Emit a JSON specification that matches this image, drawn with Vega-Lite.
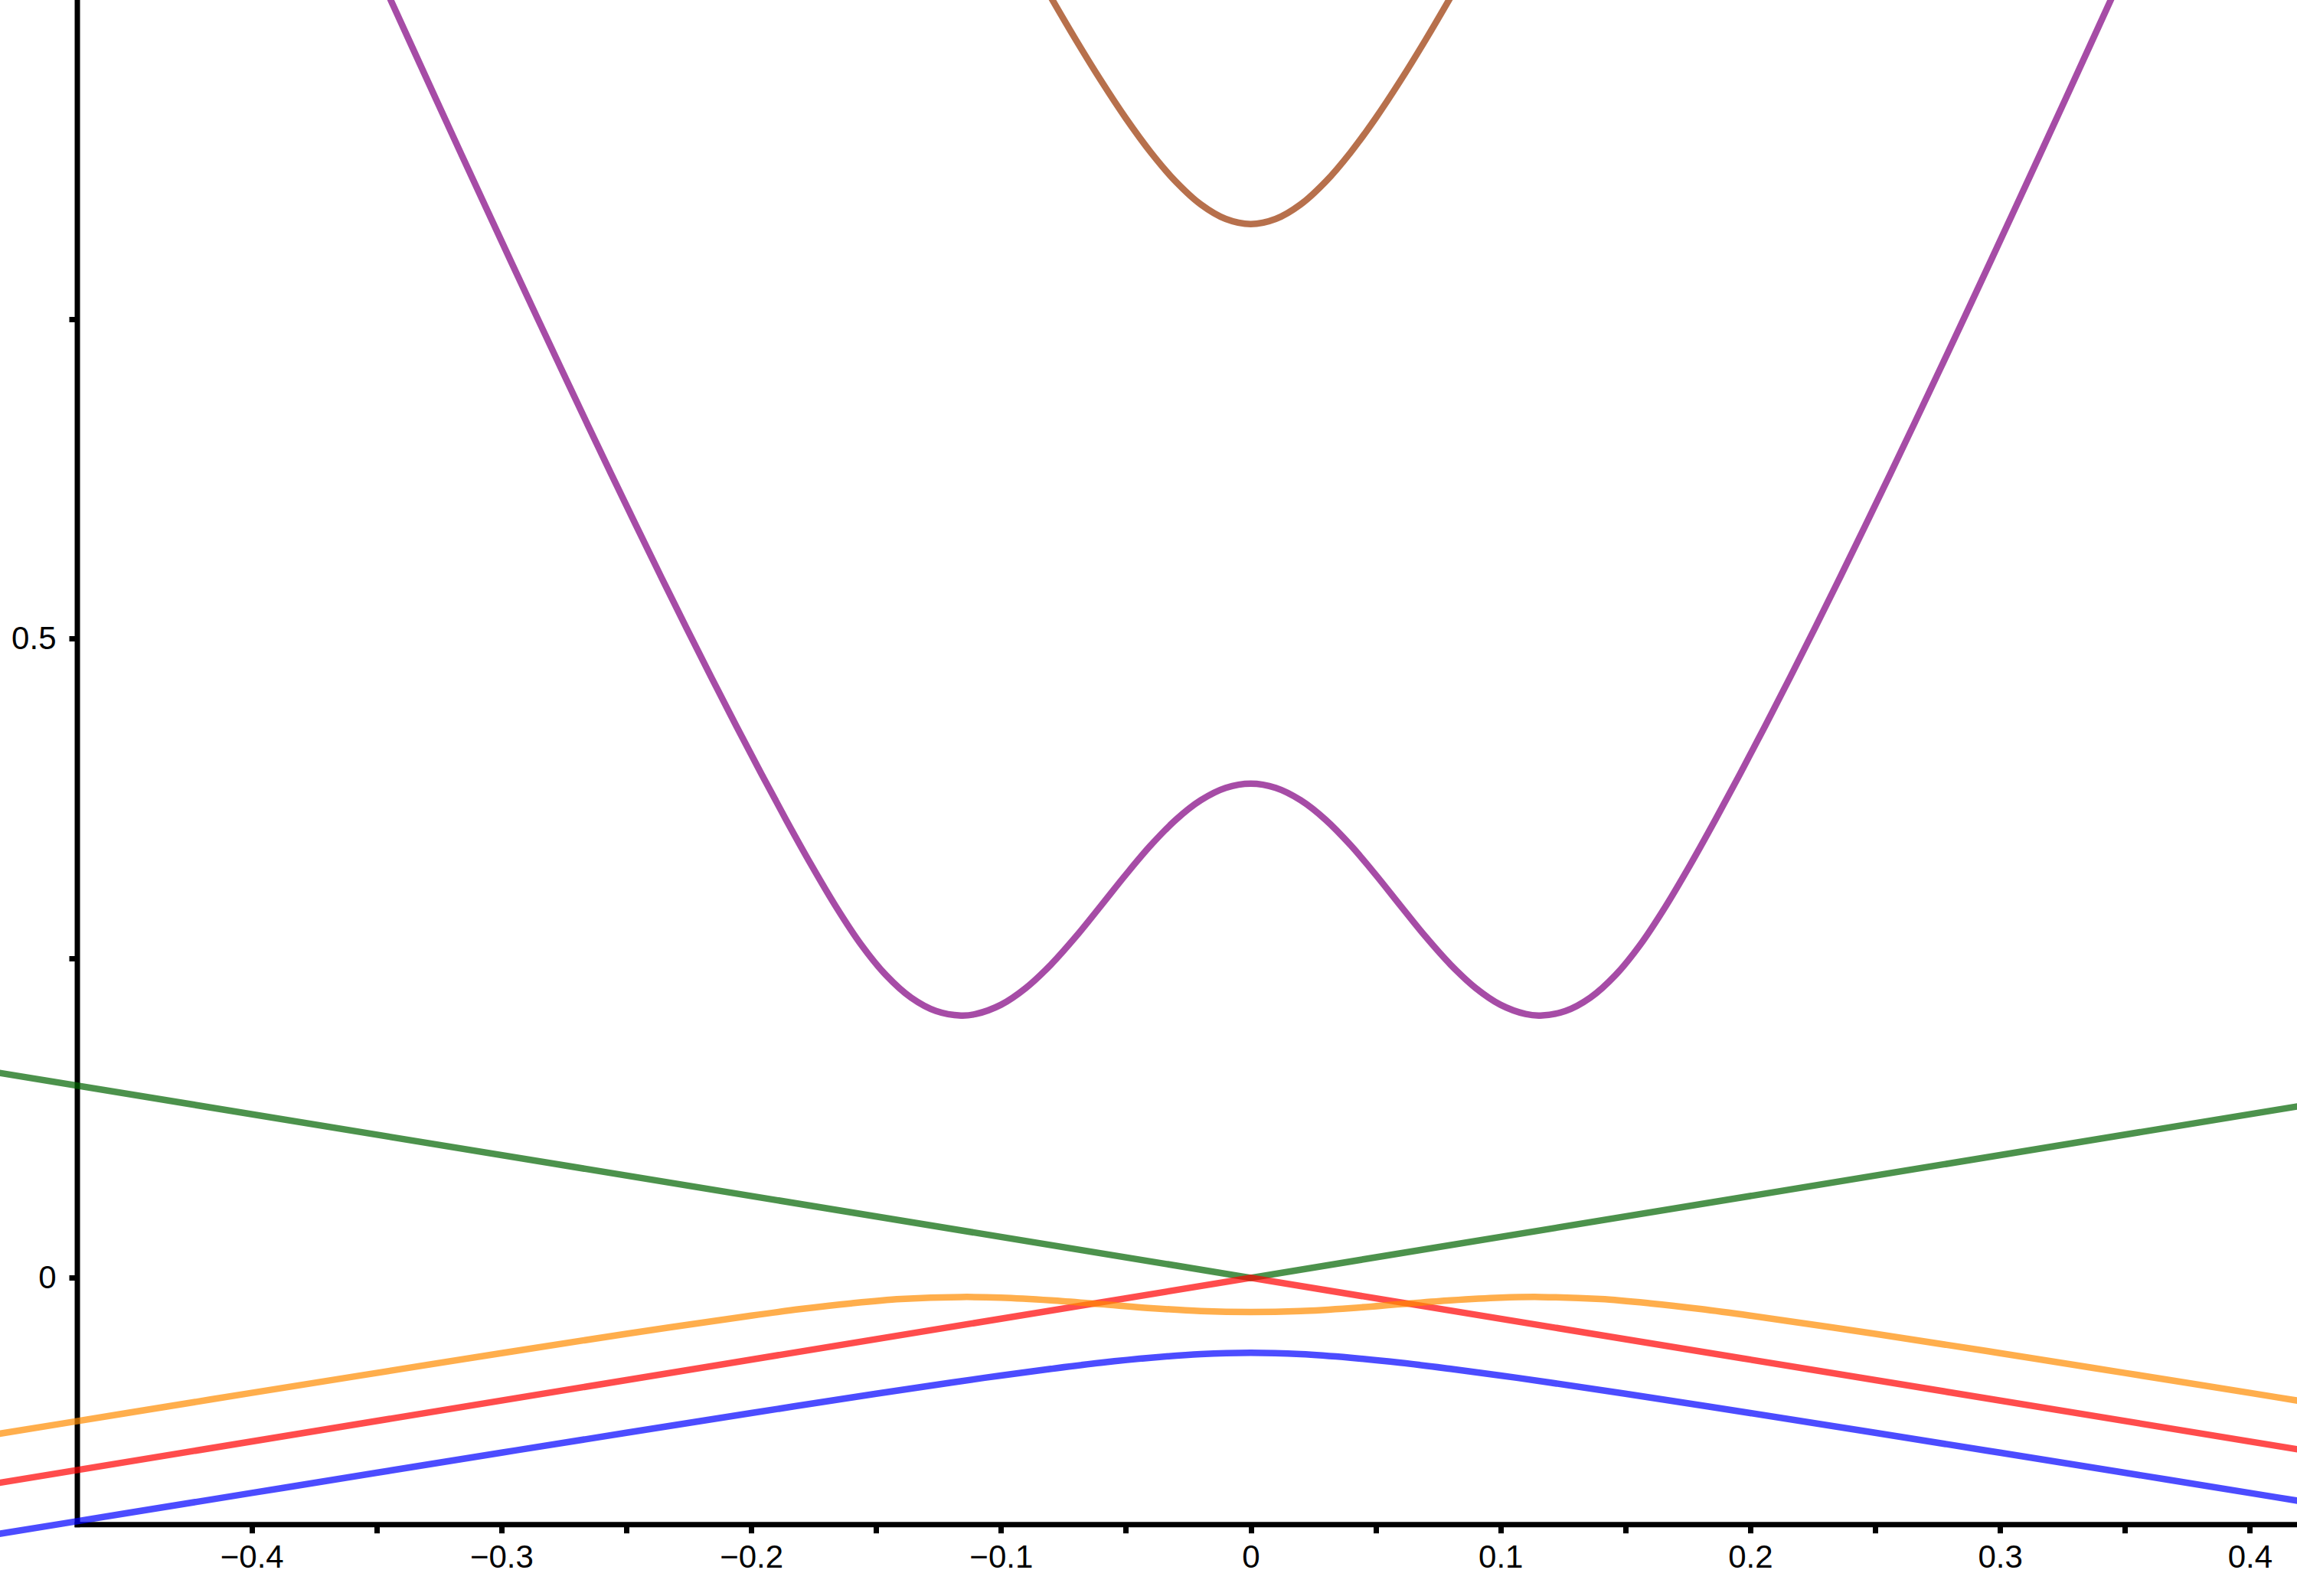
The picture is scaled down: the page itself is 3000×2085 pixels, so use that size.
{
  "$schema": "https://vega.github.io/schema/vega-lite/v6.json",
  "width": 3000,
  "height": 2085,
  "autosize": {"type": "none"},
  "padding": 0,
  "background": "white",
  "config": {
    "view": {"stroke": null},
    "axis": {"labelFont": "Liberation Sans", "labelFontSize": 42, "labelColor": "black", "tickColor": "black", "domain": false, "grid": false, "title": null, "labelFlush": false, "labelOverlap": false}
  },
  "datasets": {
    "axes": [{"k": -0.4698, "E": -0.19305, "E2": 1.05, "k2": 0.45}],
    "blue": [
      {"k": -0.51, "E": -0.2031}, {"k": -0.45, "E": -0.1841}, {"k": -0.4, "E": -0.1683}, {"k": -0.35, "E": -0.1525},
      {"k": -0.3, "E": -0.1368}, {"k": -0.25, "E": -0.1212}, {"k": -0.2, "E": -0.1058}, {"k": -0.15, "E": -0.0907},
      {"k": -0.12, "E": -0.082}, {"k": -0.1, "E": -0.0764}, {"k": -0.08, "E": -0.0712}, {"k": -0.06, "E": -0.0664},
      {"k": -0.04, "E": -0.0625}, {"k": -0.02, "E": -0.0597}, {"k": 0, "E": -0.0587}, {"k": 0.02, "E": -0.0597},
      {"k": 0.04, "E": -0.0625}, {"k": 0.06, "E": -0.0664}, {"k": 0.08, "E": -0.0712}, {"k": 0.1, "E": -0.0764},
      {"k": 0.12, "E": -0.082}, {"k": 0.15, "E": -0.0907}, {"k": 0.2, "E": -0.1058}, {"k": 0.25, "E": -0.1212},
      {"k": 0.3, "E": -0.1368}, {"k": 0.35, "E": -0.1525}, {"k": 0.4, "E": -0.1683}, {"k": 0.43, "E": -0.1778}
    ],
    "green": [{"k": -0.51, "E": 0.1632}, {"k": 0, "E": 0}, {"k": 0.43, "E": 0.1376}],
    "red": [{"k": -0.51, "E": -0.1632}, {"k": 0, "E": 0}, {"k": 0.43, "E": -0.1376}],
    "orange": [
      {"k": -0.51, "E": -0.1248}, {"k": -0.45, "E": -0.1058}, {"k": -0.4, "E": -0.09}, {"k": -0.35, "E": -0.0744},
      {"k": -0.3, "E": -0.0589}, {"k": -0.25, "E": -0.0438}, {"k": -0.2, "E": -0.0296}, {"k": -0.18, "E": -0.0244},
      {"k": -0.16, "E": -0.02}, {"k": -0.14, "E": -0.0166}, {"k": -0.116, "E": -0.015}, {"k": -0.1, "E": -0.0155},
      {"k": -0.08, "E": -0.0176}, {"k": -0.06, "E": -0.0206}, {"k": -0.04, "E": -0.0237}, {"k": -0.02, "E": -0.026},
      {"k": 0, "E": -0.0268}, {"k": 0.02, "E": -0.026}, {"k": 0.04, "E": -0.0237}, {"k": 0.06, "E": -0.0206},
      {"k": 0.08, "E": -0.0176}, {"k": 0.1, "E": -0.0155}, {"k": 0.116, "E": -0.015}, {"k": 0.14, "E": -0.0166},
      {"k": 0.16, "E": -0.02}, {"k": 0.18, "E": -0.0244}, {"k": 0.2, "E": -0.0296}, {"k": 0.25, "E": -0.0438},
      {"k": 0.3, "E": -0.0589}, {"k": 0.35, "E": -0.0744}, {"k": 0.4, "E": -0.09}, {"k": 0.43, "E": -0.0995}
    ],
    "purple": [
      {"k": -0.366, "E": 1.0926}, {"k": -0.356, "E": 1.0496}, {"k": -0.346, "E": 1.0067}, {"k": -0.336, "E": 0.9639},
      {"k": -0.326, "E": 0.9212}, {"k": -0.316, "E": 0.8787}, {"k": -0.306, "E": 0.8364}, {"k": -0.296, "E": 0.7943},
      {"k": -0.286, "E": 0.7524}, {"k": -0.276, "E": 0.7108}, {"k": -0.266, "E": 0.6695}, {"k": -0.256, "E": 0.6286},
      {"k": -0.246, "E": 0.5881}, {"k": -0.236, "E": 0.5481}, {"k": -0.226, "E": 0.5087}, {"k": -0.216, "E": 0.4699},
      {"k": -0.206, "E": 0.4318}, {"k": -0.196, "E": 0.3945}, {"k": -0.186, "E": 0.3582}, {"k": -0.176, "E": 0.3232},
      {"k": -0.166, "E": 0.2902}, {"k": -0.156, "E": 0.2607}, {"k": -0.146, "E": 0.2367}, {"k": -0.136, "E": 0.2192},
      {"k": -0.126, "E": 0.2087}, {"k": -0.116, "E": 0.2052}, {"k": -0.11, "E": 0.2064}, {"k": -0.1, "E": 0.2136},
      {"k": -0.09, "E": 0.2268}, {"k": -0.08, "E": 0.245}, {"k": -0.07, "E": 0.2669}, {"k": -0.06, "E": 0.291},
      {"k": -0.05, "E": 0.3154}, {"k": -0.04, "E": 0.3384}, {"k": -0.03, "E": 0.3583}, {"k": -0.02, "E": 0.3736},
      {"k": -0.01, "E": 0.3833}, {"k": 0, "E": 0.3866}, {"k": 0.01, "E": 0.3833}, {"k": 0.02, "E": 0.3736},
      {"k": 0.03, "E": 0.3583}, {"k": 0.04, "E": 0.3384}, {"k": 0.05, "E": 0.3154}, {"k": 0.06, "E": 0.291},
      {"k": 0.07, "E": 0.2669}, {"k": 0.08, "E": 0.245}, {"k": 0.09, "E": 0.2268}, {"k": 0.1, "E": 0.2136},
      {"k": 0.11, "E": 0.2064}, {"k": 0.116, "E": 0.2052}, {"k": 0.126, "E": 0.2087}, {"k": 0.136, "E": 0.2192},
      {"k": 0.146, "E": 0.2367}, {"k": 0.156, "E": 0.2607}, {"k": 0.166, "E": 0.2902}, {"k": 0.176, "E": 0.3232},
      {"k": 0.186, "E": 0.3582}, {"k": 0.196, "E": 0.3945}, {"k": 0.206, "E": 0.4318}, {"k": 0.216, "E": 0.4699},
      {"k": 0.226, "E": 0.5087}, {"k": 0.236, "E": 0.5481}, {"k": 0.246, "E": 0.5881}, {"k": 0.256, "E": 0.6286},
      {"k": 0.266, "E": 0.6695}, {"k": 0.276, "E": 0.7108}, {"k": 0.286, "E": 0.7524}, {"k": 0.296, "E": 0.7943},
      {"k": 0.306, "E": 0.8364}, {"k": 0.316, "E": 0.8787}, {"k": 0.326, "E": 0.9212}, {"k": 0.336, "E": 0.9639},
      {"k": 0.346, "E": 1.0067}, {"k": 0.356, "E": 1.0496}, {"k": 0.366, "E": 1.0926}
    ],
    "brown": [
      {"k": -0.1, "E": 1.0715}, {"k": -0.09, "E": 1.0361}, {"k": -0.08, "E": 1.0017}, {"k": -0.07, "E": 0.9684},
      {"k": -0.06, "E": 0.9367}, {"k": -0.05, "E": 0.9071}, {"k": -0.04, "E": 0.8804}, {"k": -0.03, "E": 0.8575},
      {"k": -0.02, "E": 0.8397}, {"k": -0.01, "E": 0.8283}, {"k": 0, "E": 0.8243}, {"k": 0.01, "E": 0.8283},
      {"k": 0.02, "E": 0.8397}, {"k": 0.03, "E": 0.8575}, {"k": 0.04, "E": 0.8804}, {"k": 0.05, "E": 0.9071},
      {"k": 0.06, "E": 0.9367}, {"k": 0.07, "E": 0.9684}, {"k": 0.08, "E": 1.0017}, {"k": 0.09, "E": 1.0361},
      {"k": 0.1, "E": 1.0715}
    ]
  },
  "encoding": {
    "x": {
      "field": "k", "type": "quantitative",
      "scale": {"domain": [-0.50077, 0.41891], "nice": false, "zero": false},
      "axis": {
        "orient": "bottom", "offset": -93.3,
        "values": [-0.4, -0.35, -0.3, -0.25, -0.2, -0.15, -0.1, -0.05, 0, 0.05, 0.1, 0.15, 0.2, 0.25, 0.3, 0.35, 0.4],
        "format": ".1~f",
        "labelExpr": "abs(round(datum.value*20)) % 2 == 0 ? datum.label : ''",
        "tickSize": 11, "tickWidth": 7, "labelPadding": 12
      }
    },
    "y": {
      "field": "E", "type": "quantitative",
      "scale": {"domain": [-0.2489, 0.9996], "nice": false, "zero": false},
      "axis": {
        "orient": "left", "offset": -101,
        "values": [0, 0.25, 0.5, 0.75],
        "format": ".2~f",
        "labelExpr": "datum.value == 0 || datum.value == 0.5 ? datum.label : ''",
        "tickSize": 11, "tickWidth": 7, "labelPadding": 17
      }
    }
  },
  "layer": [
    {"data": {"name": "axes"}, "mark": {"type": "rule", "color": "black", "strokeWidth": 7, "strokeCap": "square", "clip": true}, "encoding": {"y2": {"field": "E2"}}},
    {"data": {"name": "axes"}, "mark": {"type": "rule", "color": "black", "strokeWidth": 7, "strokeCap": "square", "clip": true}, "encoding": {"x2": {"field": "k2"}}},
    {"data": {"name": "blue"}, "mark": {"type": "line", "color": "#0000FF", "opacity": 0.7, "strokeWidth": 8.5, "interpolate": "catmull-rom", "clip": true}},
    {"data": {"name": "green"}, "mark": {"type": "line", "color": "#006400", "opacity": 0.7, "strokeWidth": 8.5, "clip": true}},
    {"data": {"name": "red"}, "mark": {"type": "line", "color": "#FF0000", "opacity": 0.7, "strokeWidth": 8.5, "clip": true}},
    {"data": {"name": "orange"}, "mark": {"type": "line", "color": "#FF8C00", "opacity": 0.7, "strokeWidth": 8.5, "interpolate": "catmull-rom", "clip": true}},
    {"data": {"name": "purple"}, "mark": {"type": "line", "color": "#800080", "opacity": 0.7, "strokeWidth": 8.5, "interpolate": "catmull-rom", "clip": true}},
    {"data": {"name": "brown"}, "mark": {"type": "line", "color": "#993300", "opacity": 0.7, "strokeWidth": 8.5, "interpolate": "catmull-rom", "clip": true}}
  ]
}
